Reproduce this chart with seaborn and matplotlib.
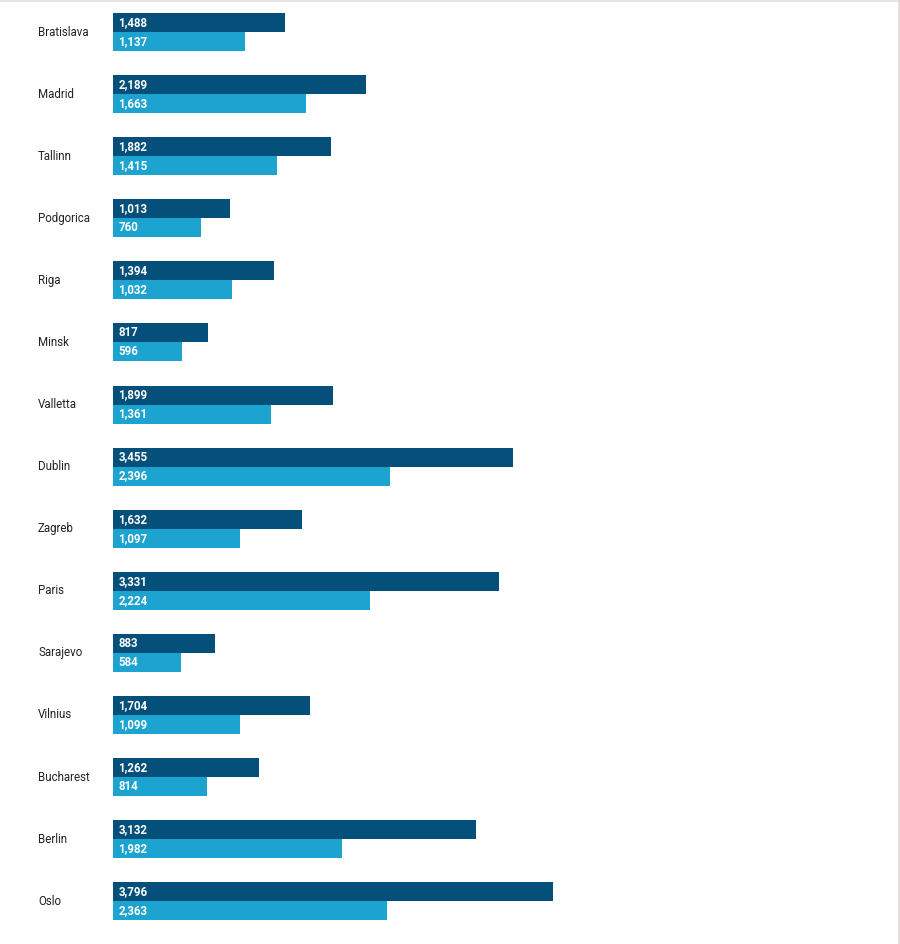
import matplotlib
matplotlib.use("Agg")
import matplotlib.pyplot as plt
import pandas as pd
import seaborn as sns

# --------------------------------------------------------------------------
cities = ["Bratislava", "Madrid", "Tallinn", "Podgorica", "Riga", "Minsk",
          "Valletta", "Dublin", "Zagreb", "Paris", "Sarajevo", "Vilnius",
          "Bucharest", "Berlin", "Oslo"]
gross = [1488, 2189, 1882, 1013, 1394, 817, 1899, 3455, 1632, 3331, 883,
         1704, 1262, 3132, 3796]
net = [1137, 1663, 1415, 760, 1032, 596, 1361, 2396, 1097, 2224, 584,
       1099, 814, 1982, 2363]
series = ["Gross", "Net"]
colors = ["#04507a", "#1ca3d0"]
# --------------------------------------------------------------------------

df = pd.DataFrame({
    "city": cities * 2,
    "value": gross + net,
    "series": [series[0]] * len(cities) + [series[1]] * len(cities),
})

sns.set_style("white")
plt.rcParams["font.family"] = ["Roboto", "DejaVu Sans"]

fig = plt.figure(figsize=(9, 9.44), dpi=100)
ax = fig.add_axes([113 / 900, 0, 785 / 900, 1])

sns.barplot(data=df, y="city", x="value", hue="series", orient="h",
            palette=colors, width=0.612, gap=0, legend=False, ax=ax,
            saturation=1, linewidth=0)

ax.set_xlim(0, 6780)
ax.set_ylim(14.69, -0.516)
ax.set_xlabel("")
ax.set_ylabel("")
ax.set_xticks([])
ax.set_yticks([])
for s in ax.spines.values():
    s.set_visible(False)

# value labels inside bars, at the left
for cont in ax.containers:
    for patch in cont:
        w = patch.get_width()
        yc = patch.get_y() + patch.get_height() / 2
        ax.text(patch.get_x() + 45, yc, f"{int(round(w)):,}", color="white",
                fontsize=8.3, fontweight="bold", va="center", ha="left")

# city names on the left
for i, c in enumerate(cities):
    ax.text(-75 / 0.1158, i, c, fontsize=8.3, color="#222222",
            va="center", ha="left", clip_on=False)

# thin frame lines at the top and right edges
fig.add_artist(plt.Line2D([0, 1], [0.999, 0.999], color="#e6dede", lw=1.2))
fig.add_artist(plt.Line2D([0.9985, 0.9985], [0, 1], color="#e0dcdc", lw=1.2))

fig.savefig("out.png", dpi=100)
